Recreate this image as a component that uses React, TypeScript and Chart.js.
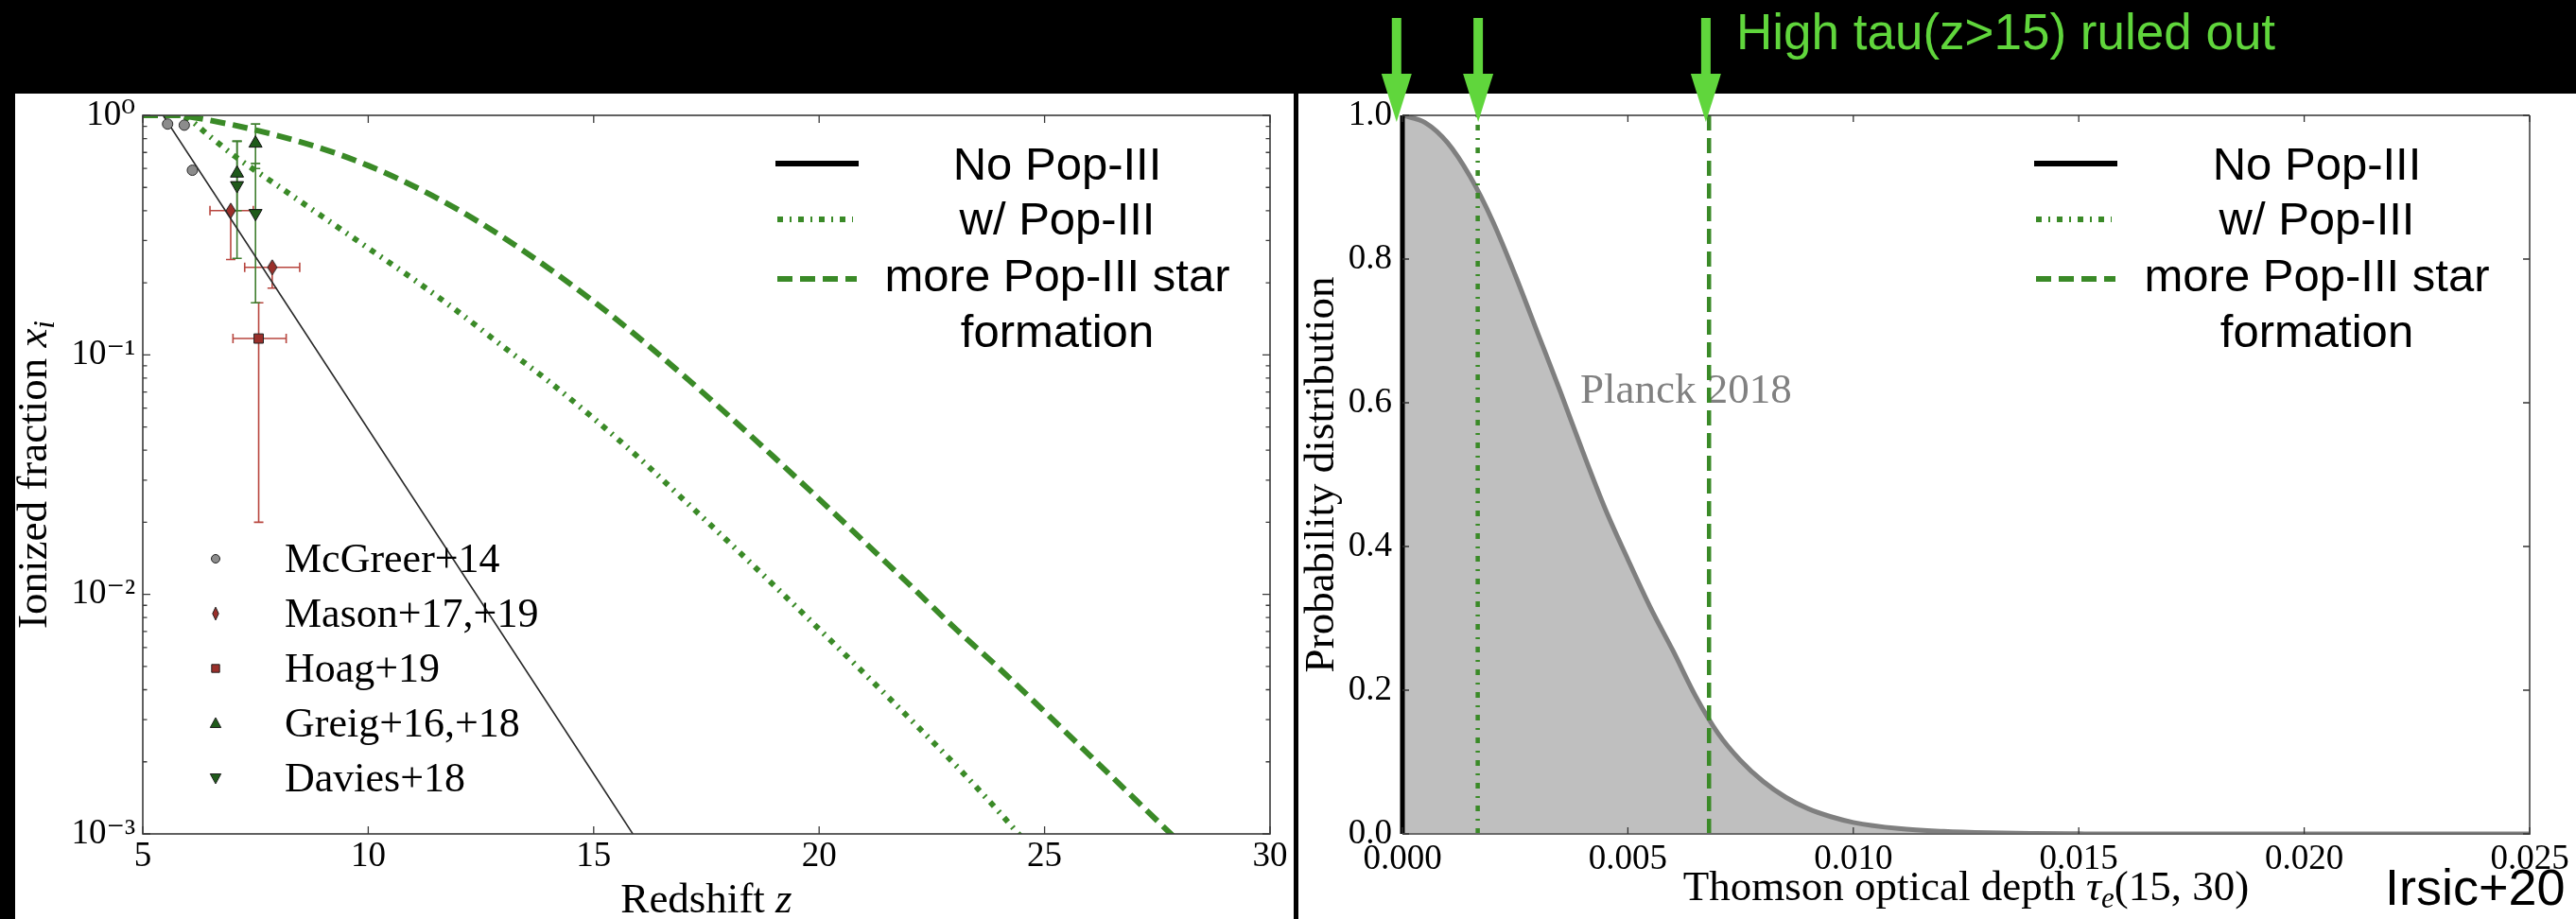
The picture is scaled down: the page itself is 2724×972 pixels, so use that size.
import React, { useEffect, useRef } from 'react';
import { Chart, registerables } from 'chart.js';

Chart.register(...registerables);

const SERIF = '"Liberation Serif", "DejaVu Serif", serif';
const SANS = '"Liberation Sans", "DejaVu Sans", Arial, sans-serif';

const W = 2724;
const H = 972;
const LEFT_W = 1368;
const RIGHT_X = 1373;
const RIGHT_W = W - RIGHT_X;

const GREEN = '#3a8a27';
const ARROW_GREEN = '#60d63c';
const DOTTED = [6, 7, 2, 7];
const DASHED = [16, 8];

// ---------------- Left panel: ionized fraction vs redshift ----------------
const zTicks = [5, 10, 15, 20, 25, 30];
const xiTickValues = [1, 0.1, 0.01, 0.001];
const xiTickLabels = ['10⁰', '10⁻¹', '10⁻²', '10⁻³'];

const noPopZ = [5.0, 5.45, 7.0, 9.0, 11.0, 13.0, 15.0, 16.5];
const noPopXi = [1.0, 1.0, 0.358, 0.095, 0.0252, 0.0067, 0.00178, 0.000657];

const popZ = [5.0, 5.7, 5.9, 6.5, 7.0, 8.0, 9.0, 10.0, 11.0, 12.0, 13.0, 14.0, 15.0, 16.0, 17.0, 18.0, 19.0, 20.0, 21.0, 22.0, 23.0, 24.0, 24.4, 25.0];
const popXi = [1.0, 1.0, 0.99, 0.813, 0.684, 0.507, 0.376, 0.279, 0.207, 0.151, 0.108, 0.0776, 0.0543, 0.0372, 0.0248, 0.0165, 0.0109, 0.00716, 0.00468, 0.00304, 0.00196, 0.00123, 0.00101, 0.00076];

const morePopZ = [5.0, 5.8, 6.0, 7.0, 8.0, 9.0, 10.0, 11.0, 12.0, 13.0, 14.0, 15.0, 16.0, 17.0, 18.0, 19.0, 20.0, 21.0, 22.0, 23.0, 24.0, 25.0, 26.0, 27.0, 27.8, 28.3];
const morePopXi = [1.0, 1.0, 0.989, 0.912, 0.822, 0.724, 0.617, 0.507, 0.403, 0.309, 0.23, 0.167, 0.118, 0.0817, 0.0556, 0.0374, 0.025, 0.0166, 0.011, 0.00726, 0.0049, 0.00324, 0.00213, 0.0014, 0.001, 0.00081];

const mcgreerZ = [5.55, 5.92, 6.1];
const mcgreerXi = [0.92, 0.91, 0.59];

const masonZ = [6.95, 7.87];
const masonXi = [0.4, 0.232];
const masonZLo = [6.49, 7.26];
const masonZHi = [7.45, 8.48];
const masonXiLo = [0.25, 0.19];
const masonXiHi = [0.4, 0.232];

const hoagZ = [7.57];
const hoagXi = [0.117];
const hoagZLo = [7.0];
const hoagZHi = [8.18];
const hoagXiLo = [0.02];
const hoagXiHi = [0.165];

const greigZ = [7.09, 7.5];
const greigXi = [0.573, 0.764];
const greigXiLo = [0.4, 0.6];
const greigXiHi = [0.78, 0.92];

const daviesZ = [7.09, 7.5];
const daviesXi = [0.51, 0.39];
const daviesXiLo = [0.253, 0.165];
const daviesXiHi = [0.78, 0.63];

const modelLegendLabels = ['No Pop-III', 'w/ Pop-III', 'more Pop-III star\nformation'];
const obsLegendLabels = ['McGreer+14', 'Mason+17,+19', 'Hoag+19', 'Greig+16,+18', 'Davies+18'];

// ---------------- Right panel: Thomson optical depth ----------------
const tauTicks = [0, 0.005, 0.01, 0.015, 0.02, 0.025];
const probTicks = [0, 0.2, 0.4, 0.6, 0.8, 1.0];

const planckTau = [0, 0.0005, 0.001, 0.0015, 0.002, 0.0025, 0.003, 0.0035, 0.004, 0.0045, 0.005, 0.0055, 0.006, 0.0065, 0.007, 0.0075, 0.008, 0.0085, 0.009, 0.0095, 0.01, 0.011, 0.012, 0.013, 0.014, 0.015, 0.016, 0.025];
const planckProb = [1.0, 0.99, 0.962, 0.915, 0.853, 0.778, 0.697, 0.616, 0.532, 0.452, 0.382, 0.315, 0.255, 0.192, 0.14, 0.102, 0.073, 0.051, 0.035, 0.024, 0.016, 0.0075, 0.0035, 0.0015, 0.0006, 0.0002, 0, 0];

const noPopTau = 0;
const popTau = 0.00167;
const morePopTau = 0.0068;
const arrowTaus = [-0.00013, 0.00168, 0.00673];

const arrowText = 'High tau(z>15) ruled out';
const creditText = 'Irsic+20';
const planckText = 'Planck 2018';

// ---------------- helpers ----------------
const pts = (xs: number[], ys: number[]) => xs.map((x, i) => ({ x, y: ys[i] }));

type Part = { t: string; f: string; dy?: number };

function richWidth(ctx: CanvasRenderingContext2D, parts: Part[]) {
  let w = 0;
  for (const p of parts) {
    ctx.font = p.f;
    w += ctx.measureText(p.t).width;
  }
  return w;
}

function drawRich(ctx: CanvasRenderingContext2D, parts: Part[], x: number, y: number) {
  const w = richWidth(ctx, parts);
  let cx = x - w / 2;
  ctx.textAlign = 'left';
  ctx.textBaseline = 'alphabetic';
  for (const p of parts) {
    ctx.font = p.f;
    ctx.fillText(p.t, cx, y + (p.dy || 0));
    cx += ctx.measureText(p.t).width;
  }
}

function drawRichRotated(ctx: CanvasRenderingContext2D, parts: Part[], bx: number, cy: number) {
  ctx.save();
  ctx.translate(bx, cy);
  ctx.rotate(-Math.PI / 2);
  drawRich(ctx, parts, 0, 0);
  ctx.restore();
}

function drawMarker(ctx: CanvasRenderingContext2D, kind: string, x: number, y: number, s: number, fill: string, stroke: string) {
  ctx.beginPath();
  if (kind === 'circle') {
    ctx.arc(x, y, s, 0, Math.PI * 2);
  } else if (kind === 'diamond') {
    ctx.moveTo(x, y - s * 1.6);
    ctx.lineTo(x + s * 0.75, y);
    ctx.lineTo(x, y + s * 1.6);
    ctx.lineTo(x - s * 0.75, y);
    ctx.closePath();
  } else if (kind === 'square') {
    ctx.rect(x - s, y - s, 2 * s, 2 * s);
  } else if (kind === 'tri') {
    ctx.moveTo(x, y - s);
    ctx.lineTo(x + s * 0.95, y + s * 0.75);
    ctx.lineTo(x - s * 0.95, y + s * 0.75);
    ctx.closePath();
  } else if (kind === 'tridown') {
    ctx.moveTo(x, y + s);
    ctx.lineTo(x + s * 0.95, y - s * 0.75);
    ctx.lineTo(x - s * 0.95, y - s * 0.75);
    ctx.closePath();
  }
  ctx.fillStyle = fill;
  ctx.fill();
  ctx.lineWidth = 1;
  ctx.strokeStyle = stroke;
  ctx.stroke();
}

function makeDiamond(fill: string, stroke: string) {
  const c = document.createElement('canvas');
  c.width = 12;
  c.height = 18;
  const g = c.getContext('2d')!;
  g.beginPath();
  g.moveTo(6, 1);
  g.lineTo(11, 9);
  g.lineTo(6, 17);
  g.lineTo(1, 9);
  g.closePath();
  g.fillStyle = fill;
  g.fill();
  g.strokeStyle = stroke;
  g.lineWidth = 1;
  g.stroke();
  return c;
}

function drawModelLegend(ctx: CanvasRenderingContext2D, lx0: number, lx1: number, tcx: number) {
  ctx.save();
  ctx.lineCap = 'butt';
  ctx.lineWidth = 6;
  ctx.strokeStyle = '#000';
  ctx.beginPath();
  ctx.moveTo(lx0, 173);
  ctx.lineTo(lx1, 173);
  ctx.stroke();
  ctx.strokeStyle = GREEN;
  ctx.setLineDash(DOTTED);
  ctx.beginPath();
  ctx.moveTo(lx0 + 2, 232);
  ctx.lineTo(lx1 - 6, 232);
  ctx.stroke();
  ctx.setLineDash(DASHED);
  ctx.beginPath();
  ctx.moveTo(lx0 + 2, 295);
  ctx.lineTo(lx1 - 2, 295);
  ctx.stroke();
  ctx.setLineDash([]);
  ctx.fillStyle = '#000';
  ctx.font = `49px ${SANS}`;
  ctx.textAlign = 'center';
  ctx.textBaseline = 'alphabetic';
  const lines: string[] = [];
  modelLegendLabels.forEach((l) => l.split('\n').forEach((s) => lines.push(s)));
  const baselines = [190, 248, 308, 367];
  lines.forEach((s, i) => ctx.fillText(s, tcx, baselines[i]));
  ctx.restore();
}

function drawErrorBars(chart: any) {
  const { ctx } = chart;
  const xs = chart.scales.x;
  const ys = chart.scales.y;
  ctx.save();
  ctx.lineWidth = 1.6;
  chart.data.datasets.forEach((ds: any) => {
    if (!ds.err) return;
    ctx.strokeStyle = ds.err.color;
    ds.data.forEach((p: any, i: number) => {
      const px = xs.getPixelForValue(p.x);
      const py = ys.getPixelForValue(p.y);
      const e = ds.err;
      if (e.xLo && e.xLo[i] != null) {
        const a = xs.getPixelForValue(e.xLo[i]);
        const b = xs.getPixelForValue(e.xHi[i]);
        ctx.beginPath();
        ctx.moveTo(a, py);
        ctx.lineTo(b, py);
        ctx.moveTo(a, py - 5);
        ctx.lineTo(a, py + 5);
        ctx.moveTo(b, py - 5);
        ctx.lineTo(b, py + 5);
        ctx.stroke();
      }
      if (e.yLo && e.yLo[i] != null) {
        const a = ys.getPixelForValue(e.yLo[i]);
        const b = ys.getPixelForValue(e.yHi[i]);
        ctx.beginPath();
        ctx.moveTo(px, a);
        ctx.lineTo(px, b);
        ctx.moveTo(px - 5, a);
        ctx.lineTo(px + 5, a);
        if (Math.abs(b - py) > 2) {
          ctx.moveTo(px - 5, b);
          ctx.lineTo(px + 5, b);
        }
        ctx.stroke();
      }
    });
  });
  ctx.restore();
}

const leftDecor = {
  id: 'leftDecor',
  beforeDraw(chart: any) {
    const { ctx, width, height } = chart;
    ctx.save();
    ctx.fillStyle = '#fff';
    ctx.fillRect(0, 0, width, height);
    ctx.fillStyle = '#000';
    ctx.fillRect(0, 0, width, 99);
    ctx.fillRect(0, 0, 16, height);
    ctx.restore();
  },
  beforeDatasetsDraw(chart: any) {
    drawErrorBars(chart);
  },
  afterDraw(chart: any) {
    const { ctx, chartArea: a } = chart;
    const xs = chart.scales.x;
    const ys = chart.scales.y;
    ctx.save();
    ctx.strokeStyle = '#3a3a3a';
    ctx.lineWidth = 1.6;
    ctx.strokeRect(a.left, a.top, a.right - a.left, a.bottom - a.top);
    ctx.lineWidth = 1.3;
    ctx.beginPath();
    zTicks.forEach((v) => {
      const x = xs.getPixelForValue(v);
      ctx.moveTo(x, a.bottom);
      ctx.lineTo(x, a.bottom - 8);
      ctx.moveTo(x, a.top);
      ctx.lineTo(x, a.top + 8);
    });
    xiTickValues.forEach((v) => {
      const y = ys.getPixelForValue(v);
      ctx.moveTo(a.left, y);
      ctx.lineTo(a.left + 8, y);
      ctx.moveTo(a.right, y);
      ctx.lineTo(a.right - 8, y);
    });
    for (let e = -3; e < 0; e++) {
      for (let m = 2; m <= 9; m++) {
        const y = ys.getPixelForValue(m * Math.pow(10, e));
        ctx.moveTo(a.left, y);
        ctx.lineTo(a.left + 4.5, y);
        ctx.moveTo(a.right, y);
        ctx.lineTo(a.right - 4.5, y);
      }
    }
    ctx.stroke();

    drawModelLegend(ctx, 820, 908, 1118);

    const kinds = ['circle', 'diamond', 'square', 'tri', 'tridown'];
    const fills = ['#8c8c8c', '#9a2f2a', '#9a2f2a', '#1f5a1a', '#1f5a1a'];
    const sizes = [4.5, 4.3, 4.2, 6, 6];
    obsLegendLabels.forEach((lab, i) => {
      const my = 591 + i * 58;
      drawMarker(ctx, kinds[i], 228, my, sizes[i], fills[i], '#222');
      ctx.fillStyle = '#000';
      ctx.font = `44px ${SERIF}`;
      ctx.textAlign = 'left';
      ctx.textBaseline = 'alphabetic';
      ctx.fillText(lab, 301, my + 14);
    });

    ctx.fillStyle = '#000';
    drawRich(ctx, [
      { t: 'Redshift ', f: `45px ${SERIF}` },
      { t: 'z', f: `italic 45px ${SERIF}` },
    ], (a.left + a.right) / 2, 965);
    drawRichRotated(ctx, [
      { t: 'Ionized fraction ', f: `45px ${SERIF}` },
      { t: 'x', f: `italic 45px ${SERIF}` },
      { t: 'i', f: `italic 31px ${SERIF}`, dy: 8 },
    ], 49, (a.top + a.bottom) / 2);
    ctx.restore();
  },
};

const rightDecor = {
  id: 'rightDecor',
  beforeDraw(chart: any) {
    const { ctx, width, height } = chart;
    ctx.save();
    ctx.fillStyle = '#fff';
    ctx.fillRect(0, 0, width, height);
    ctx.fillStyle = '#000';
    ctx.fillRect(0, 0, width, 99);
    ctx.restore();
  },
  beforeDatasetsDraw(chart: any) {
    const { ctx } = chart;
    ctx.save();
    ctx.fillStyle = '#808080';
    ctx.font = `45px ${SERIF}`;
    ctx.textAlign = 'left';
    ctx.textBaseline = 'alphabetic';
    ctx.fillText(planckText, 298, 426);
    ctx.restore();
  },
  afterDraw(chart: any) {
    const { ctx, chartArea: a } = chart;
    const xs = chart.scales.x;
    const ys = chart.scales.y;
    ctx.save();
    ctx.lineWidth = 1.6;
    ctx.strokeStyle = '#333';
    ctx.beginPath();
    ctx.moveTo(a.left, a.top);
    ctx.lineTo(a.right, a.top);
    ctx.stroke();
    ctx.strokeStyle = '#6a6a6a';
    ctx.lineWidth = 2;
    ctx.beginPath();
    ctx.moveTo(a.right, a.top);
    ctx.lineTo(a.right, a.bottom);
    ctx.lineTo(a.left, a.bottom);
    ctx.stroke();
    ctx.strokeStyle = '#333';
    ctx.lineWidth = 1.3;
    ctx.beginPath();
    tauTicks.forEach((v) => {
      const x = xs.getPixelForValue(v);
      ctx.moveTo(x, a.bottom);
      ctx.lineTo(x, a.bottom - 7);
      ctx.moveTo(x, a.top);
      ctx.lineTo(x, a.top + 7);
    });
    probTicks.forEach((v) => {
      const y = ys.getPixelForValue(v);
      ctx.moveTo(a.left, y);
      ctx.lineTo(a.left + 7, y);
      ctx.moveTo(a.right, y);
      ctx.lineTo(a.right - 7, y);
    });
    ctx.stroke();

    drawModelLegend(ctx, 778, 866, 1077);

    ctx.fillStyle = '#000';
    drawRich(ctx, [
      { t: 'Thomson optical depth ', f: `45px ${SERIF}` },
      { t: 'τ', f: `italic 45px ${SERIF}` },
      { t: 'e', f: `italic 31px ${SERIF}`, dy: 8 },
      { t: '(15, 30)', f: `45px ${SERIF}` },
    ], (a.left + a.right) / 2, 952);
    drawRichRotated(ctx, [
      { t: 'Probability distribution', f: `45px ${SERIF}` },
    ], 37, (a.top + a.bottom) / 2);

    ctx.fillStyle = ARROW_GREEN;
    arrowTaus.forEach((t) => {
      const x = xs.getPixelForValue(t);
      ctx.fillRect(x - 5, 19, 10, 62);
      ctx.beginPath();
      ctx.moveTo(x - 16, 78);
      ctx.lineTo(x + 16, 78);
      ctx.lineTo(x, 129);
      ctx.closePath();
      ctx.fill();
    });
    ctx.font = `53px ${SANS}`;
    ctx.textAlign = 'left';
    ctx.textBaseline = 'alphabetic';
    ctx.fillText(arrowText, 1836 - RIGHT_X, 52);

    ctx.fillStyle = '#000';
    ctx.font = `54px ${SANS}`;
    ctx.fillText(creditText, 2522 - RIGHT_X, 957);
    ctx.restore();
  },
};

function leftConfig(): any {
  const diamond = makeDiamond('#9a2f2a', '#222');
  const obsRed = '#b8463f';
  const obsGreen = '#3f7f2f';
  const tickFont = { family: SERIF, size: 37 };
  return {
    type: 'scatter',
    data: {
      datasets: [
        { label: obsLegendLabels[0], data: pts(mcgreerZ, mcgreerXi), pointStyle: 'circle', pointRadius: 5.5, backgroundColor: '#8c8c8c', borderColor: '#2a2a2a', borderWidth: 1 },
        { label: obsLegendLabels[1], data: pts(masonZ, masonXi), pointStyle: diamond, pointRadius: 8, backgroundColor: '#9a2f2a', borderColor: '#222', err: { color: obsRed, xLo: masonZLo, xHi: masonZHi, yLo: masonXiLo, yHi: masonXiHi } },
        { label: obsLegendLabels[2], data: pts(hoagZ, hoagXi), pointStyle: 'rect', pointRadius: 7, backgroundColor: '#9a2f2a', borderColor: '#222', borderWidth: 1, err: { color: obsRed, xLo: hoagZLo, xHi: hoagZHi, yLo: hoagXiLo, yHi: hoagXiHi } },
        { label: obsLegendLabels[3], data: pts(greigZ, greigXi), pointStyle: 'triangle', pointRadius: 8, backgroundColor: '#1f5a1a', borderColor: '#111', borderWidth: 1, err: { color: obsGreen, yLo: greigXiLo, yHi: greigXiHi } },
        { label: obsLegendLabels[4], data: pts(daviesZ, daviesXi), pointStyle: 'triangle', pointRotation: 180, pointRadius: 8, backgroundColor: '#1f5a1a', borderColor: '#111', borderWidth: 1, err: { color: obsGreen, yLo: daviesXiLo, yHi: daviesXiHi } },
        { label: modelLegendLabels[0], data: pts(noPopZ, noPopXi), showLine: true, borderColor: '#2b2b2b', borderWidth: 1.6, pointRadius: 0 },
        { label: modelLegendLabels[1], data: pts(popZ, popXi), showLine: true, borderColor: GREEN, borderWidth: 6, borderDash: DOTTED, pointRadius: 0, cubicInterpolationMode: 'monotone' },
        { label: modelLegendLabels[2], data: pts(morePopZ, morePopXi), showLine: true, borderColor: GREEN, borderWidth: 6, borderDash: DASHED, pointRadius: 0, cubicInterpolationMode: 'monotone' },
      ],
    },
    options: {
      animation: false,
      responsive: false,
      maintainAspectRatio: false,
      devicePixelRatio: 1,
      events: [],
      layout: { padding: { left: 0, top: 122, right: 25, bottom: 0 } },
      plugins: { legend: { display: false }, tooltip: { enabled: false } },
      scales: {
        x: {
          type: 'linear', min: 5, max: 30, position: 'bottom',
          afterFit: (s: any) => { s.height = 90; },
          afterBuildTicks: (s: any) => { s.ticks = zTicks.map((v) => ({ value: v })); },
          ticks: { font: tickFont, color: '#000', padding: 2, maxRotation: 0, autoSkip: false, callback: (v: any) => String(v) },
          grid: { display: false, drawTicks: false },
          border: { display: false },
        },
        y: {
          type: 'logarithmic', min: 0.001, max: 1, position: 'left',
          afterFit: (s: any) => { s.width = 151; },
          afterBuildTicks: (s: any) => { s.ticks = xiTickValues.map((v) => ({ value: v })); },
          ticks: {
            font: tickFont, color: '#000', padding: 8, autoSkip: false,
            callback: (v: any) => {
              const i = xiTickValues.findIndex((t) => Math.abs(Math.log10(t) - Math.log10(v)) < 1e-6);
              return i >= 0 ? xiTickLabels[i] : '';
            },
          },
          grid: { display: false, drawTicks: false },
          border: { display: false },
        },
      },
    },
    plugins: [leftDecor],
  };
}

function rightConfig(): any {
  const tickFont = { family: SERIF, size: 37 };
  return {
    type: 'scatter',
    data: {
      datasets: [
        { label: modelLegendLabels[0], data: [{ x: noPopTau, y: 0 }, { x: noPopTau, y: 1 }], showLine: true, borderColor: '#000', borderWidth: 5, pointRadius: 0, clip: false },
        { label: modelLegendLabels[1], data: [{ x: popTau, y: 0 }, { x: popTau, y: 1 }], showLine: true, borderColor: GREEN, borderWidth: 4.5, borderDash: [6, 8, 2, 8], pointRadius: 0 },
        { label: modelLegendLabels[2], data: [{ x: morePopTau, y: 0 }, { x: morePopTau, y: 1 }], showLine: true, borderColor: GREEN, borderWidth: 4.5, borderDash: DASHED, pointRadius: 0 },
        { label: planckText, data: pts(planckTau, planckProb), showLine: true, borderColor: '#7f7f7f', borderWidth: 5, pointRadius: 0, fill: 'origin', backgroundColor: '#bfbfbf', cubicInterpolationMode: 'monotone' },
      ],
    },
    options: {
      animation: false,
      responsive: false,
      maintainAspectRatio: false,
      devicePixelRatio: 1,
      events: [],
      layout: { padding: { left: 0, top: 122, right: 49, bottom: 0 } },
      plugins: { legend: { display: false }, tooltip: { enabled: false } },
      scales: {
        x: {
          type: 'linear', min: 0, max: 0.025, position: 'bottom',
          afterFit: (s: any) => { s.height = 90; },
          afterBuildTicks: (s: any) => { s.ticks = tauTicks.map((v) => ({ value: v })); },
          ticks: { font: tickFont, color: '#000', padding: 5, maxRotation: 0, autoSkip: false, callback: (v: any) => Number(v).toFixed(3) },
          grid: { display: false, drawTicks: false },
          border: { display: false },
        },
        y: {
          type: 'linear', min: 0, max: 1, position: 'left',
          afterFit: (s: any) => { s.width = 110; },
          afterBuildTicks: (s: any) => { s.ticks = probTicks.map((v) => ({ value: v })); },
          ticks: { font: tickFont, color: '#000', padding: 11, autoSkip: false, callback: (v: any) => Number(v).toFixed(1) },
          grid: { display: false, drawTicks: false },
          border: { display: false },
        },
      },
    },
    plugins: [rightDecor],
  };
}

export default function App() {
  const leftRef = useRef<HTMLCanvasElement>(null);
  const rightRef = useRef<HTMLCanvasElement>(null);
  useEffect(() => {
    const l = new Chart(leftRef.current as HTMLCanvasElement, leftConfig());
    const r = new Chart(rightRef.current as HTMLCanvasElement, rightConfig());
    return () => {
      l.destroy();
      r.destroy();
    };
  }, []);
  return (
    <div style={{ position: 'fixed', left: 0, top: 0, width: W, height: H, background: '#000', overflow: 'hidden' }}>
      <canvas ref={leftRef} width={LEFT_W} height={H} style={{ position: 'absolute', left: 0, top: 0, width: LEFT_W, height: H, display: 'block' }} />
      <canvas ref={rightRef} width={RIGHT_W} height={H} style={{ position: 'absolute', left: RIGHT_X, top: 0, width: RIGHT_W, height: H, display: 'block' }} />
    </div>
  );
}
